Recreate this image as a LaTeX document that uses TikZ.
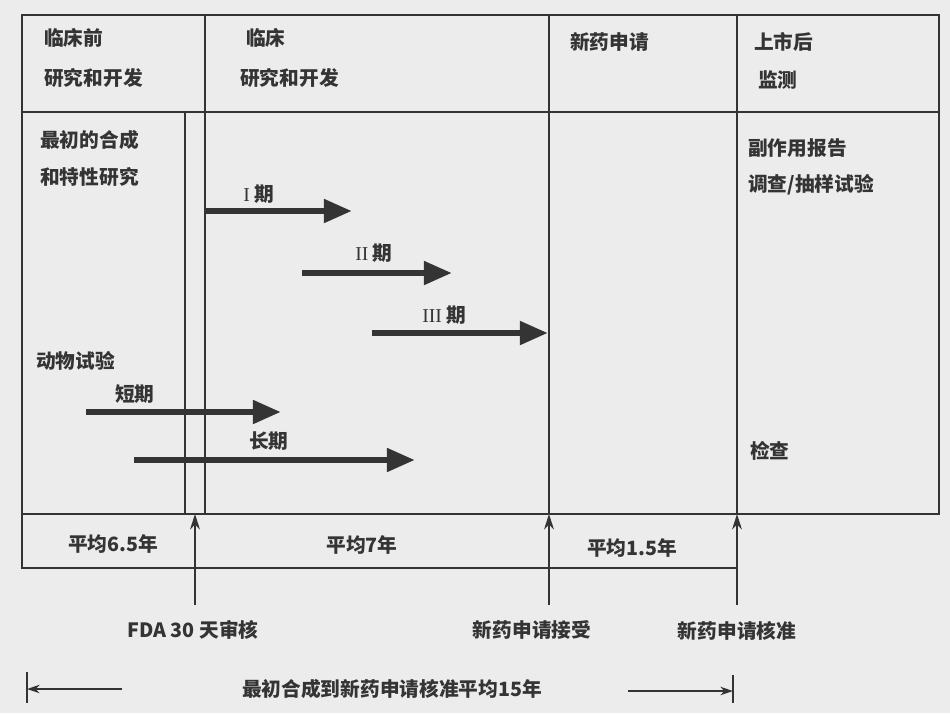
\documentclass[tikz,border=0pt]{standalone}
\usepackage{fontspec}
\setmainfont{Noto Sans CJK SC}
\newfontfamily\romanfont{Liberation Serif}
\usetikzlibrary{arrows.meta}
\definecolor{ink}{RGB}{52,52,52}
\definecolor{paper}{RGB}{236,236,236}
\tikzset{
  lbl/.style={anchor=west, inner sep=0pt, text=ink, font=\fontsize{14}{16}\selectfont\bfseries},
  clbl/.style={lbl, anchor=center},
  rule/.style={draw=ink, line width=1.4pt},
  fat/.style={draw=ink, line width=4.5pt, -{Triangle[length=20pt,width=16pt]}},
  uparrow/.style={draw=ink, line width=1pt, -{Stealth[length=11pt,width=7pt]}},
  spanarrow/.style={draw=ink, line width=1pt, -{Stealth[length=9pt,width=6pt]}}
}
\begin{document}
\begin{tikzpicture}[x=0.025cm,y=-0.025cm]
\useasboundingbox[fill=paper] (0,0) rectangle (950,713);

% table
\draw[rule] (737,568) -- (22,568) -- (22,15) -- (939,15) -- (939,514) -- (22,514);
\draw[rule] (22,112) -- (939,112);
\draw[rule] (205,15) -- (205,514);
\draw[rule] (185,112) -- (185,514);
\draw[rule] (549,15) -- (549,514);
\draw[rule] (737,15) -- (737,514);

% header
\node [lbl] (h1) at (44,38) {临床前};
\node [lbl] (h2) at (44,78) {研究和开发};
\node [lbl] (h3) at (246,38) {临床};
\node [lbl] (h4) at (240,78) {研究和开发};
\node [lbl] (h5) at (570,42) {新药申请};
\node [lbl] (h6) at (754,42) {上市后};
\node [lbl] (h7) at (758,80) {监测};

% body
\node [lbl] (b1) at (40,140) {最初的合成};
\node [lbl] (b2) at (40,177) {和特性研究};
\node [lbl] (b3) at (36,361) {动物试验};
\node [lbl] (b4) at (115,394) {短期};
\node [lbl] (b5) at (249,441) {长期};
\node [lbl] (p1) at (243,194) {{\romanfont\mdseries I} 期};
\node [lbl] (p2) at (355,253) {{\romanfont\mdseries II} 期};
\node [lbl] (p3) at (422,315) {{\romanfont\mdseries III} 期};
\node [lbl] (m1) at (748,148) {副作用报告};
\node [lbl] (m2) at (748,185) {调查/抽样试验};
\node [lbl] (m3) at (750,451) {检查};

\coordinate (a1) at (205,211);
\coordinate (a2) at (352,211);
\coordinate (a3) at (302,273);
\coordinate (a4) at (452,273);
\coordinate (a5) at (372,333);
\coordinate (a6) at (548,333);
\coordinate (a7) at (86,412);
\coordinate (a8) at (281,412);
\coordinate (a9) at (134,460);
\coordinate (a10) at (415,460);
\draw [fat] (a1) -- (a2);
\draw [fat] (a3) -- (a4);
\draw [fat] (a5) -- (a6);
\draw [fat] (a7) -- (a8);
\draw [fat] (a9) -- (a10);

% averages
\node [clbl] (y1) at (113,544) {平均6.5年};
\node [clbl] (y2) at (362,545) {平均7年};
\node [clbl] (y3) at (632,548) {平均1.5年};

% milestones
\node [clbl] (e1) at (193,630) {FDA 30 天审核};
\node [clbl] (e2) at (532,630) {新药申请接受};
\node [clbl] (e3) at (737,631) {新药申请核准};
\coordinate (u1) at (195,605);
\coordinate (u2) at (195,514);
\coordinate (u3) at (549,605);
\coordinate (u4) at (549,514);
\coordinate (u5) at (737,605);
\coordinate (u6) at (737,514);
\draw [uparrow] (u1) -- (u2);
\draw [uparrow] (u3) -- (u4);
\draw [uparrow] (u5) -- (u6);

% total span
\node [clbl] (s1) at (392,689) {最初合成到新药申请核准平均15年};
\coordinate (s2) at (122,689);
\coordinate (s3) at (27,689);
\coordinate (s4) at (628,691);
\coordinate (s5) at (733,691);
\draw [spanarrow] (s2) -- (s3);
\draw [spanarrow] (s4) -- (s5);
\draw [rule, line width=1pt] (27,672) -- (27,703);
\draw [rule, line width=1pt] (733,675) -- (733,703);
\end{tikzpicture}
\end{document}
